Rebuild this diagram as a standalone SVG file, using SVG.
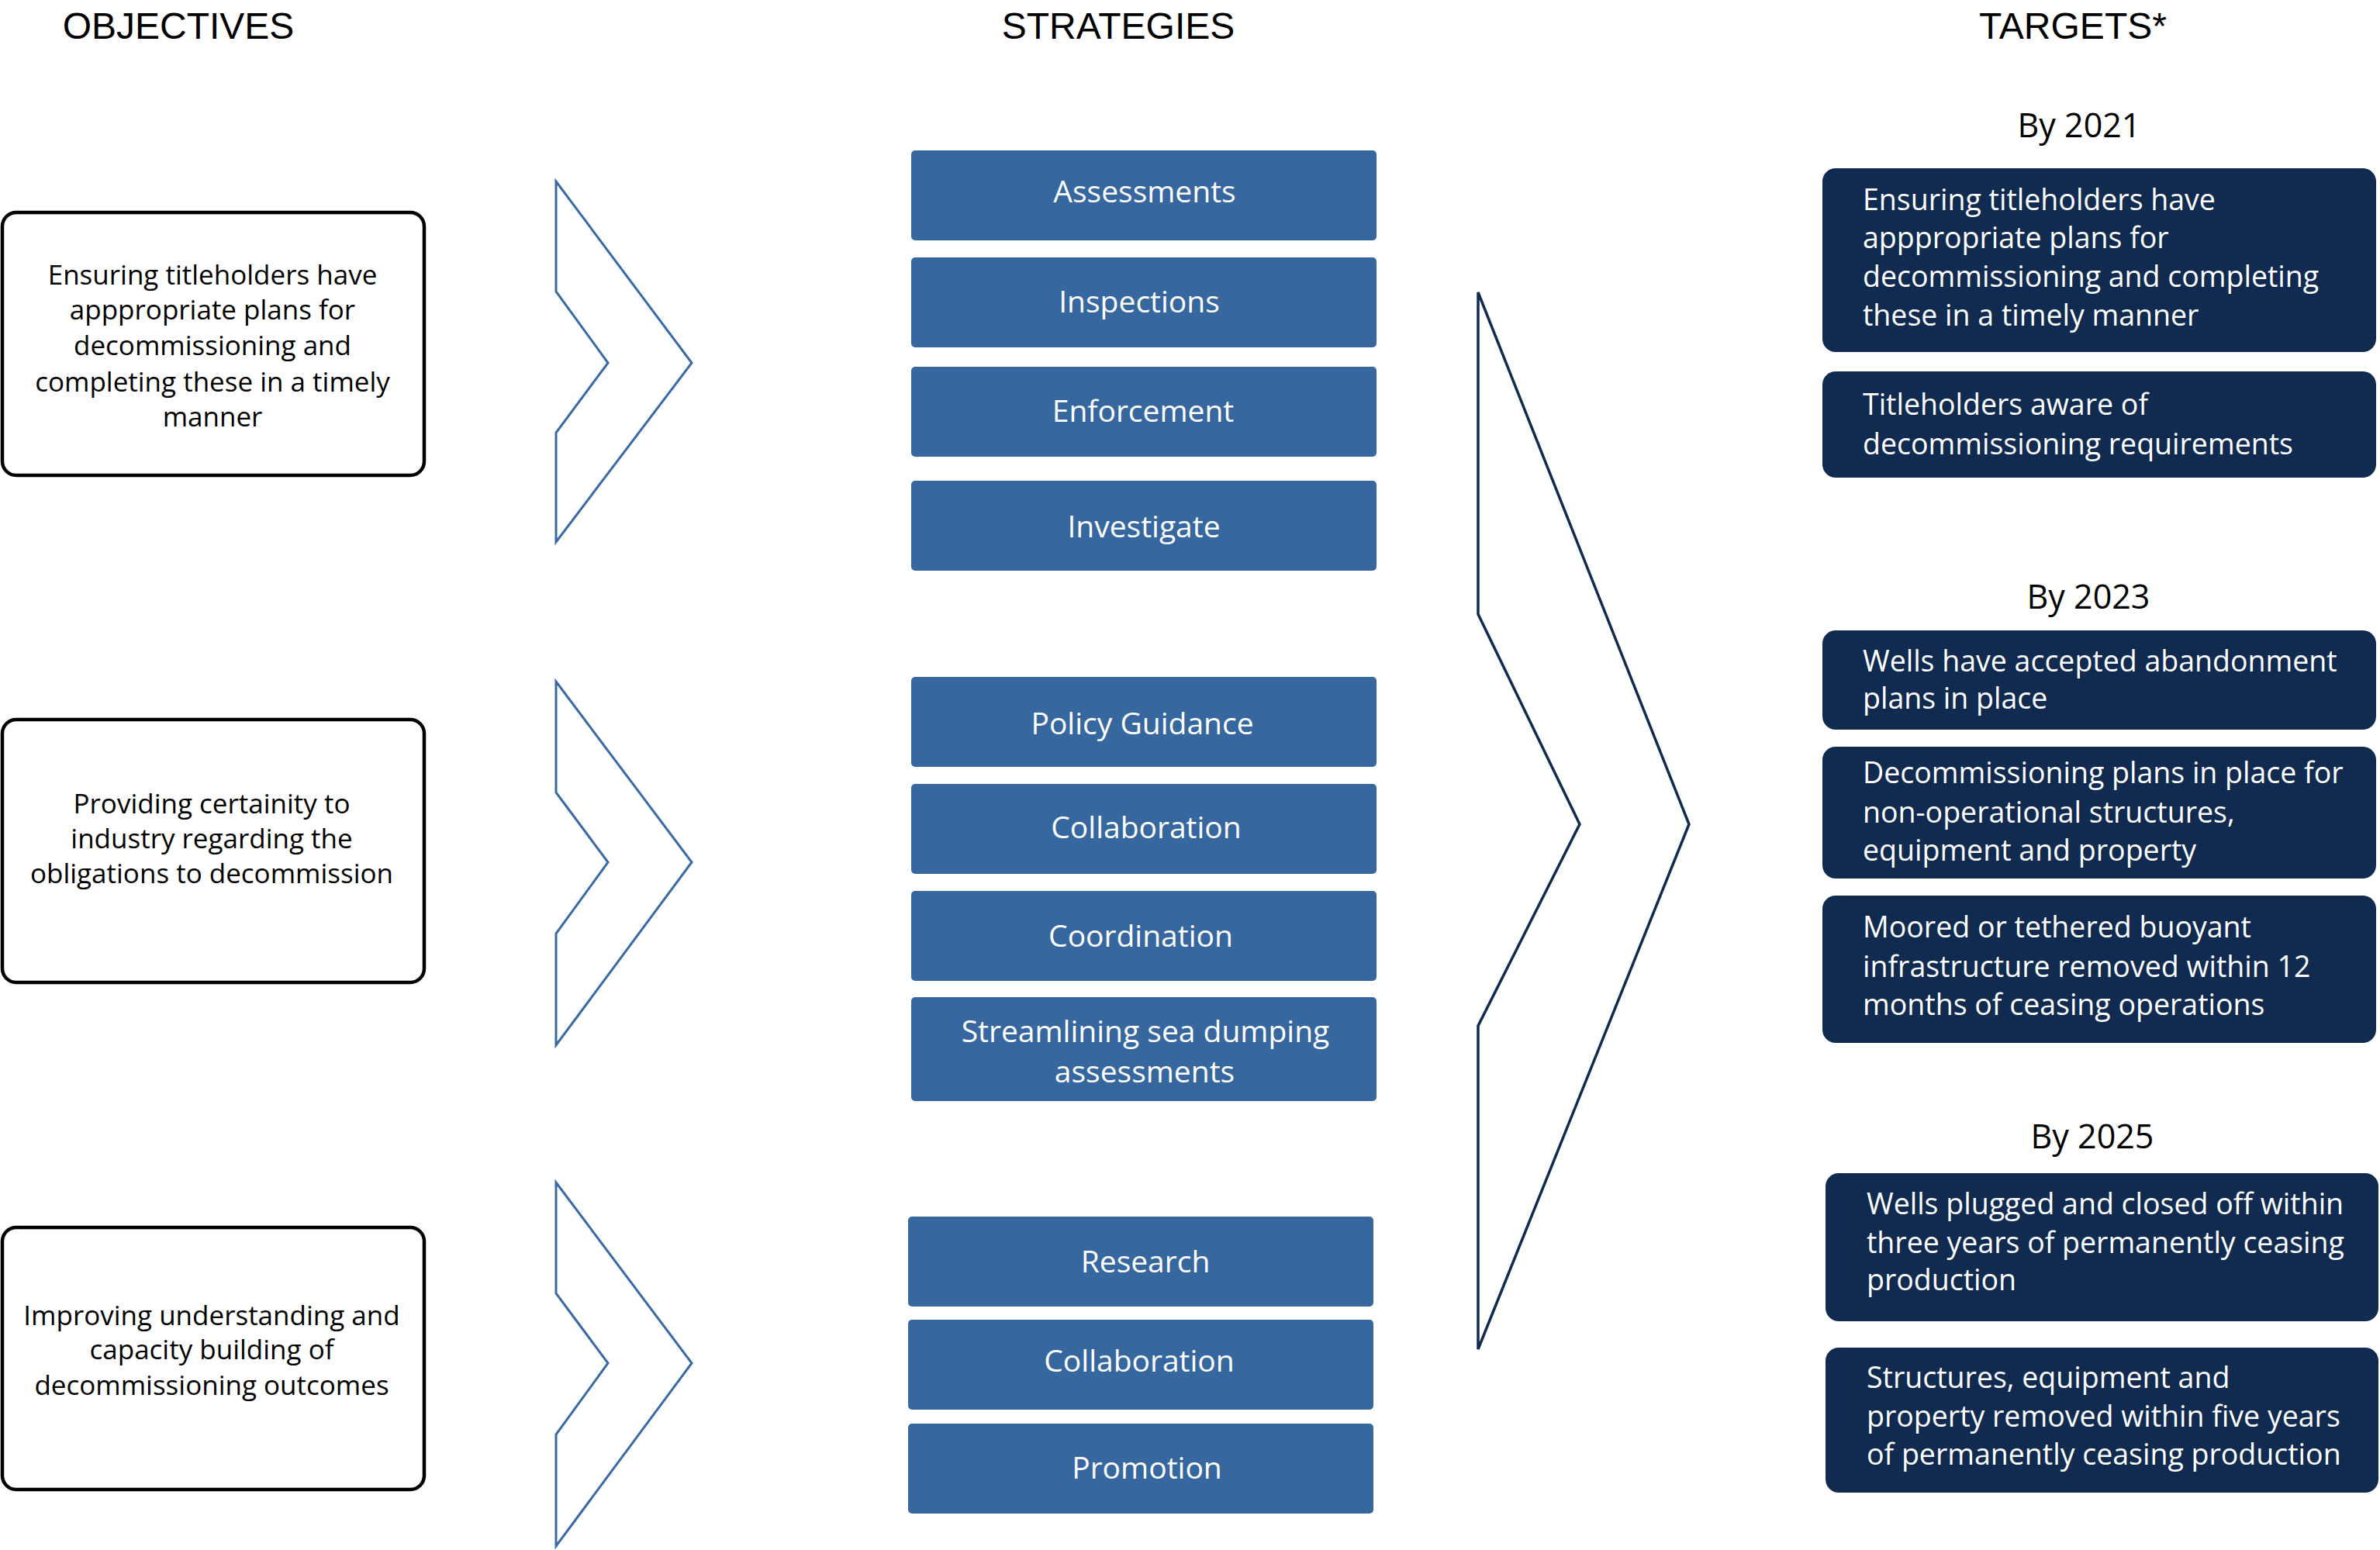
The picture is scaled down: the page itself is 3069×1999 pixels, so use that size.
<svg xmlns="http://www.w3.org/2000/svg" width="3069" height="1999" viewBox="0 0 3069 1999">
<style>
  text { font-family: "Open Sans", "Noto Sans", "Liberation Sans", sans-serif; }
  .hdr { font-family: "Liberation Sans", Arial, sans-serif; font-size: 48px; fill: #000; text-anchor: middle; }
  .obj { fill: #fff; stroke: #000; stroke-width: 4.5; }
  .objt { font-size: 35px; fill: #000; text-anchor: middle; }
  .str { fill: #37679F; }
  .strt { font-size: 39px; fill: #fff; text-anchor: middle; }
  .yr { font-size: 43px; fill: #000; text-anchor: middle; }
  .tgt { fill: #102B4F; }
  .tgtt { font-size: 37.5px; fill: #fff; }
  .chev { fill: #fff; stroke: #3A6AA5; stroke-width: 3; stroke-linejoin: miter; }
  .bigchev { fill: #fff; stroke: #102B4F; stroke-width: 3.5; stroke-linejoin: miter; }
</style>

<g id="headers">
  <text class="hdr" x="230" y="50">OBJECTIVES</text>
  <text class="hdr" x="1442" y="50">STRATEGIES</text>
  <text class="hdr" x="2673" y="50">TARGETS*</text>
</g>

<g id="connectors">
  <polygon class="chev" points="717,234 892,468 717,699 717,558 784,468 717,376"/>
  <polygon class="chev" points="717,879 892,1112 717,1348 717,1204 784,1112 717,1022"/>
  <polygon class="chev" points="717,1525 892,1758 717,1994 717,1850 784,1758 717,1668"/>
  <polygon class="bigchev" points="1906,377 2178,1063 1906,1740 1906,1323 2037,1063 1906,792"/>
</g>

<g id="objective-1">
  <rect class="obj" x="3" y="274" width="544" height="339" rx="18"/>
  <text class="objt" x="274" y="367">Ensuring titleholders have</text>
  <text class="objt" x="274" y="412">apppropriate plans for</text>
  <text class="objt" x="274" y="458">decommissioning and</text>
  <text class="objt" x="274" y="505">completing these in a timely</text>
  <text class="objt" x="274" y="550">manner</text>
</g>
<g id="objective-2">
  <rect class="obj" x="3" y="928" width="544" height="339" rx="18"/>
  <text class="objt" x="273" y="1049">Providing certainity to</text>
  <text class="objt" x="273" y="1094">industry regarding the</text>
  <text class="objt" x="273" y="1139">obligations to decommission</text>
</g>
<g id="objective-3">
  <rect class="obj" x="3" y="1583" width="544" height="338" rx="18"/>
  <text class="objt" x="273" y="1709">Improving understanding and</text>
  <text class="objt" x="273" y="1753">capacity building of</text>
  <text class="objt" x="273" y="1799">decommissioning outcomes</text>
</g>

<g id="strategy-assessments">
  <rect class="str" x="1175" y="194" width="600" height="116" rx="5"/>
  <text class="strt" x="1476" y="261">Assessments</text>
</g>
<g id="strategy-inspections">
  <rect class="str" x="1175" y="332" width="600" height="116" rx="5"/>
  <text class="strt" x="1469" y="403">Inspections</text>
</g>
<g id="strategy-enforcement">
  <rect class="str" x="1175" y="473" width="600" height="116" rx="5"/>
  <text class="strt" x="1474" y="544">Enforcement</text>
</g>
<g id="strategy-investigate">
  <rect class="str" x="1175" y="620" width="600" height="116" rx="5"/>
  <text class="strt" x="1475" y="693">Investigate</text>
</g>
<g id="strategy-policy-guidance">
  <rect class="str" x="1175" y="873" width="600" height="116" rx="5"/>
  <text class="strt" x="1473" y="947">Policy Guidance</text>
</g>
<g id="strategy-collaboration-1">
  <rect class="str" x="1175" y="1011" width="600" height="116" rx="5"/>
  <text class="strt" x="1478" y="1081">Collaboration</text>
</g>
<g id="strategy-coordination">
  <rect class="str" x="1175" y="1149" width="600" height="116" rx="5"/>
  <text class="strt" x="1471" y="1221">Coordination</text>
</g>
<g id="strategy-sea-dumping">
  <rect class="str" x="1175" y="1286" width="600" height="134" rx="5"/>
  <text class="strt" x="1477" y="1344">Streamlining sea dumping</text>
  <text class="strt" x="1476" y="1396">assessments</text>
</g>
<g id="strategy-research">
  <rect class="str" x="1171" y="1569" width="600" height="116" rx="5"/>
  <text class="strt" x="1477" y="1641">Research</text>
</g>
<g id="strategy-collaboration-2">
  <rect class="str" x="1171" y="1702" width="600" height="116" rx="5"/>
  <text class="strt" x="1469" y="1769">Collaboration</text>
</g>
<g id="strategy-promotion">
  <rect class="str" x="1171" y="1836" width="600" height="116" rx="5"/>
  <text class="strt" x="1479" y="1907">Promotion</text>
</g>

<g id="year-2021"><text class="yr" x="2681" y="177">By 2021</text></g>
<g id="year-2023"><text class="yr" x="2693" y="785">By 2023</text></g>
<g id="year-2025"><text class="yr" x="2698" y="1481">By 2025</text></g>

<g id="target-2021-plans">
  <rect class="tgt" x="2350" y="217" width="714" height="237" rx="17"/>
  <text class="tgtt" x="2402" y="271">Ensuring titleholders have</text>
  <text class="tgtt" x="2402" y="320">apppropriate plans for</text>
  <text class="tgtt" x="2402" y="370">decommissioning and completing</text>
  <text class="tgtt" x="2402" y="420">these in a timely manner</text>
</g>
<g id="target-2021-aware">
  <rect class="tgt" x="2350" y="479" width="714" height="137" rx="17"/>
  <text class="tgtt" x="2402" y="535">Titleholders aware of</text>
  <text class="tgtt" x="2402" y="586">decommissioning requirements</text>
</g>
<g id="target-2023-wells">
  <rect class="tgt" x="2350" y="813" width="714" height="128" rx="17"/>
  <text class="tgtt" x="2402" y="866">Wells have accepted abandonment</text>
  <text class="tgtt" x="2402" y="914">plans in place</text>
</g>
<g id="target-2023-plans">
  <rect class="tgt" x="2350" y="963" width="714" height="170" rx="17"/>
  <text class="tgtt" x="2402" y="1010">Decommissioning plans in place for</text>
  <text class="tgtt" x="2402" y="1061">non-operational structures,</text>
  <text class="tgtt" x="2402" y="1110">equipment and property</text>
</g>
<g id="target-2023-moored">
  <rect class="tgt" x="2350" y="1155" width="714" height="190" rx="17"/>
  <text class="tgtt" x="2402" y="1209">Moored or tethered buoyant</text>
  <text class="tgtt" x="2402" y="1260">infrastructure removed within 12</text>
  <text class="tgtt" x="2402" y="1309">months of ceasing operations</text>
</g>
<g id="target-2025-wells">
  <rect class="tgt" x="2354" y="1513" width="713" height="191" rx="17"/>
  <text class="tgtt" x="2407" y="1566">Wells plugged and closed off within</text>
  <text class="tgtt" x="2407" y="1616">three years of permanently ceasing</text>
  <text class="tgtt" x="2407" y="1664">production</text>
</g>
<g id="target-2025-structures">
  <rect class="tgt" x="2354" y="1738" width="713" height="187" rx="17"/>
  <text class="tgtt" x="2407" y="1790">Structures, equipment and</text>
  <text class="tgtt" x="2407" y="1840">property removed within five years</text>
  <text class="tgtt" x="2407" y="1889">of permanently ceasing production</text>
</g>
</svg>
